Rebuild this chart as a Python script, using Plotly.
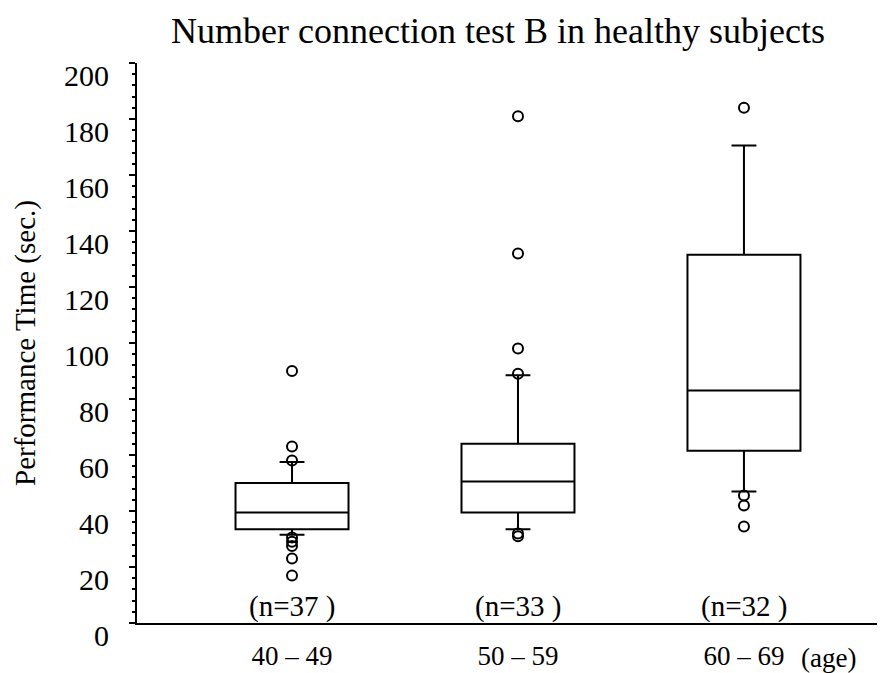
import plotly.graph_objects as go

groups = ["40 – 49", "50 – 59", "60 – 69"]
n_labels = ["(n=37 )", "(n=33 )", "(n=32 )"]
lower_fence = [31.5, 33.5, 47.0]
q1 = [33.5, 39.5, 61.5]
median = [39.5, 50.5, 83.0]
q3 = [50.0, 64.0, 131.5]
upper_fence = [57.5, 88.5, 170.5]
outliers = [
    [90, 63, 58, 30.5, 29, 27.5, 23, 17],
    [181, 132, 98, 89, 32, 31],
    [184, 45.5, 42, 34.5],
]
y_ticks = [0, 20, 40, 60, 80, 100, 120, 140, 160, 180, 200]

SERIF = "Liberation Serif, Times New Roman, serif"
pos = list(range(len(groups)))

# page has an 8px body margin; compensate so the plot lands where the reference has it
OFF = 8
W, H = 885 - OFF, 673 - OFF
L, T = 137 - OFF, 63 - OFF
R = W - (880 - OFF)
B = H - (623 - OFF)
PW, PH = W - L - R, H - T - B

fig = go.Figure()
fig.add_trace(go.Box(
    x=pos, q1=q1, median=median, q3=q3,
    lowerfence=lower_fence, upperfence=upper_fence,
    boxpoints=False, width=0.5, whiskerwidth=0.22,
    fillcolor="white", line=dict(color="black", width=2),
    showlegend=False, hoverinfo="skip",
))
ox, oy = [], []
for i, vals in enumerate(outliers):
    ox += [pos[i]] * len(vals)
    oy += vals
fig.add_trace(go.Scatter(
    x=ox, y=oy, mode="markers",
    marker=dict(symbol="circle-open", size=10, color="black", line=dict(width=2, color="black")),
    showlegend=False, hoverinfo="skip",
))

for i, t in enumerate(n_labels):
    fig.add_annotation(x=pos[i], y=6, xref="x", yref="y", text=t, showarrow=False,
                       font=dict(family=SERIF, size=29, color="black"), yanchor="middle")
fig.add_annotation(x=(828 - OFF - L) / PW, y=-(658 - 623) / PH, xref="paper", yref="paper",
                   text="(age)", showarrow=False, xanchor="center", yanchor="middle",
                   font=dict(family=SERIF, size=27, color="black"))

fig.update_layout(
    width=W, height=H,
    paper_bgcolor="white", plot_bgcolor="white",
    margin=dict(l=L, r=R, t=T, b=B, autoexpand=False),
    title=dict(text="Number connection test B in healthy subjects",
               x=(498 - OFF - L) / PW, xref="paper", y=1 - (30 - OFF) / H, yref="container",
               xanchor="center", yanchor="middle",
               font=dict(family=SERIF, size=36, color="black")),
    font=dict(family=SERIF, color="black"),
)

fig.update_xaxes(
    range=[-0.686, 2.602], tickvals=pos, ticktext=groups,
    showline=True, linecolor="black", linewidth=2, ticks="",
    showgrid=False, zeroline=False, automargin=False,
    tickfont=dict(family=SERIF, size=27, color="black"),
    ticklabelstandoff=8,
)
fig.update_yaxes(
    range=[0, 200], tickvals=y_ticks,
    showline=True, linecolor="black", linewidth=2,
    ticks="outside", ticklen=6, tickwidth=2, tickcolor="black",
    minor=dict(dtick=4, ticks="outside", ticklen=3, tickwidth=1.5, tickcolor="black", showgrid=False),
    showgrid=False, zeroline=False, automargin=False,
    tickfont=dict(family=SERIF, size=30, color="black"),
    ticklabelshift=12, ticklabelstandoff=14,
    title=dict(text="Performance Time (sec.)", font=dict(family=SERIF, size=29, color="black"), standoff=20),
)

fig.write_html("out.html")
